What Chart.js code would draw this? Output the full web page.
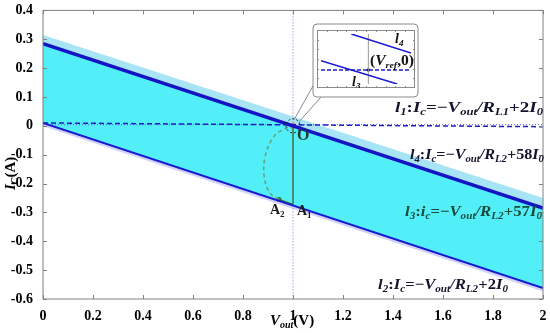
<!DOCTYPE html>
<html>
<head>
<meta charset="utf-8">
<script src="https://cdn.jsdelivr.net/npm/chart.js@4.4.0/dist/chart.umd.min.js"></script>
<style>
  body { margin: 0; background: #fff; }
  #wrap { position: relative; width: 550px; height: 333px; }
  #inset { position: absolute; left: 317px; top: 30px; }
</style>
</head>
<body>
<div id="wrap">
  <canvas id="chart-0" width="550" height="333"></canvas>
  <canvas id="inset" width="98" height="58"></canvas>
</div>
<script>
// main chart values (Vout in V, Ic in A)
const vEnds = [0, 2];
const l1Vals = [0.01, -0.003];
const l2Vals = [0.01, -0.562];
const l4Vals = [0.285, -0.285];
const glowVals = [0.315, -0.25];
const lowGlowVals = [-0.001, -0.574];
const zeroVals = [0.004, 0.004];
const refX = [1, 1];
const refY = [0.4, -0.6];
const greenX = [1, 1, 0.944];
const greenY = [0, -0.272, -0.255];
const arcX = [0.98, 0.93, 0.897, 0.883, 0.89, 0.913, 0.944];
const arcY = [-0.005, -0.03, -0.08, -0.14, -0.2, -0.238, -0.255];
const xTicks = [0, 0.2, 0.4, 0.6, 0.8, 1, 1.2, 1.4, 1.6, 1.8, 2];
const yTicks = [0.4, 0.3, 0.2, 0.1, 0, -0.1, -0.2, -0.3, -0.4, -0.5, -0.6];

// inset (zoom around the O point)
const insetL4X = [0.964, 1.09];
const insetL4Y = [0.0288, 0.0136];
const insetL3X = [0.9, 1.061];
const insetL3Y = [0.0074, -0.0112];
const insetL1X = [0.9, 1.09];
const insetL1Y = [0, 0];

const pts = (xs, ys) => xs.map((x, i) => ({ x: x, y: ys[i] }));
const SERIF = '"Liberation Serif", "Times New Roman", serif';

// draw text made of runs: i = italic, n = upright, si/sn = subscript
function rich(ctx, x, y, runs, size, color, targetW) {
  const fontOf = m => {
    const sub = m[0] === 's';
    const it = m.indexOf('i') >= 0;
    return (it ? 'italic ' : '') + 'bold ' + (sub ? Math.round(size * 0.65) : size) + 'px ' + SERIF;
  };
  let total = 0;
  runs.forEach(r => { ctx.font = fontOf(r[1]); total += ctx.measureText(r[0]).width; });
  const sc = targetW ? targetW / total : 1;
  ctx.save();
  ctx.translate(x, y);
  ctx.scale(sc, 1);
  ctx.fillStyle = color;
  ctx.textBaseline = 'middle';
  ctx.textAlign = 'left';
  let cx = 0;
  runs.forEach(r => {
    ctx.font = fontOf(r[1]);
    const dy = r[1][0] === 's' ? size * 0.32 : 0;
    ctx.fillText(r[0], cx, dy);
    cx += ctx.measureText(r[0]).width;
  });
  ctx.restore();
}

const frame = {
  id: 'frame',
  afterDraw(chart) {
    const ctx = chart.ctx;
    const a = chart.chartArea;
    const xs = chart.scales.x, ys = chart.scales.y;
    ctx.save();
    ctx.strokeStyle = '#808080';
    ctx.lineWidth = 1;
    ctx.strokeRect(a.left, a.top, a.right - a.left, a.bottom - a.top);
    ctx.beginPath();
    xTicks.forEach(v => {
      const px = Math.round(xs.getPixelForValue(v)) + 0.5;
      ctx.moveTo(px, a.bottom); ctx.lineTo(px, a.bottom - 4);
      ctx.moveTo(px, a.top); ctx.lineTo(px, a.top + 4);
    });
    yTicks.forEach(v => {
      const py = Math.round(ys.getPixelForValue(v)) + 0.5;
      ctx.moveTo(a.left, py); ctx.lineTo(a.left + 4, py);
      ctx.moveTo(a.right, py); ctx.lineTo(a.right - 4, py);
    });
    ctx.stroke();

    // dashed ring around O
    const ox = xs.getPixelForValue(1), oy = ys.getPixelForValue(0);
    ctx.setLineDash([2, 2]);
    ctx.strokeStyle = '#222';
    ctx.beginPath();
    ctx.arc(ox, oy, 7, 0, Math.PI * 2);
    ctx.stroke();
    ctx.setLineDash([]);

    // callout box of the inset
    ctx.strokeStyle = '#8a8a8a';
    ctx.beginPath();
    ctx.roundRect(313, 24, 105, 73, 4);
    ctx.stroke();
    ctx.beginPath();
    ctx.moveTo(313, 86); ctx.lineTo(ox + 1, oy - 6);
    ctx.moveTo(321, 97); ctx.lineTo(ox + 6, oy - 4);
    ctx.stroke();

    // curve labels
    rich(ctx, 395, 108, [['l', 'i'], ['1', 'si'], [':', 'n'], ['I', 'i'], ['c', 'si'], ['=\u2212', 'n'], ['V', 'i'], ['out', 'si'], ['/', 'i'], ['R', 'i'], ['L1', 'si'], ['+2', 'n'], ['I', 'i'], ['0', 'si']], 15, '#14142e', 148);
    rich(ctx, 410, 155, [['l', 'i'], ['4', 'si'], [':', 'n'], ['I', 'i'], ['c', 'si'], ['=\u2212', 'n'], ['V', 'i'], ['out', 'si'], ['/', 'i'], ['R', 'i'], ['L2', 'si'], ['+58', 'n'], ['I', 'i'], ['0', 'si']], 15, '#14142e', 134);
    rich(ctx, 405, 212, [['l', 'i'], ['3', 'si'], [':', 'n'], ['i', 'i'], ['c', 'si'], ['=\u2212', 'n'], ['V', 'i'], ['out', 'si'], ['/', 'i'], ['R', 'i'], ['L2', 'si'], ['+57', 'n'], ['I', 'i'], ['0', 'si']], 15, '#1c4a3a', 137);
    rich(ctx, 378, 285, [['l', 'i'], ['2', 'si'], [':', 'n'], ['I', 'i'], ['c', 'si'], ['=\u2212', 'n'], ['V', 'i'], ['out', 'si'], ['/', 'i'], ['R', 'i'], ['L2', 'si'], ['+2', 'n'], ['I', 'i'], ['0', 'si']], 15, '#14142e', 130);

    rich(ctx, ox + 4, oy + 10, [['O', 'n']], 16, '#1d3a2c');
    rich(ctx, 270, 210, [['A', 'n'], ['2', 'sn']], 14, '#1a1a1a');
    rich(ctx, 297, 211, [['A', 'n'], ['1', 'sn']], 14, '#1a1a1a');

    // axis titles
    rich(ctx, 270, 321, [['V', 'i'], ['out', 'si'], ['(V)', 'n']], 15, '#000');
    ctx.translate(11, 190);
    ctx.rotate(-Math.PI / 2);
    rich(ctx, 0, 0, [['I', 'i'], ['C', 'si'], ['(A)', 'n']], 15, '#000');
    ctx.restore();
  }
};

const tickFont = { family: SERIF, weight: 'bold', size: 14 };

new Chart(document.getElementById('chart-0'), {
  type: 'scatter',
  data: {
    datasets: [
      { data: pts(vEnds, glowVals), showLine: true, borderWidth: 0, pointRadius: 0,
        fill: { target: 1 }, backgroundColor: '#a6e4f6' },
      { data: pts(vEnds, l4Vals), showLine: true, borderColor: '#1414c4', borderWidth: 3.5, pointRadius: 0,
        fill: { target: 2 }, backgroundColor: '#52eff8' },
      { data: pts(vEnds, l2Vals), showLine: true, borderColor: '#1818d0', borderWidth: 2, pointRadius: 0,
        fill: { target: 3 }, backgroundColor: '#cfd2f6' },
      { data: pts(vEnds, lowGlowVals), showLine: true, borderWidth: 0, pointRadius: 0 },
      { data: pts(vEnds, l1Vals), showLine: true, borderColor: '#2020c0', borderWidth: 1.5, borderDash: [5, 3], pointRadius: 0 },
      { data: pts(vEnds, zeroVals), showLine: true, borderColor: '#5a5ad8', borderWidth: 1, borderDash: [1, 2], pointRadius: 0 },
      { data: pts(refX, refY), showLine: true, borderColor: '#8a6ac8', borderWidth: 1, borderDash: [1, 2], pointRadius: 0 },
      { data: pts(greenX, greenY), showLine: true, borderColor: '#2f7a32', borderWidth: 1.5, pointRadius: 0 },
      { data: pts(arcX, arcY), showLine: true, borderColor: '#6aa07a', borderWidth: 1.5, borderDash: [4, 3], pointRadius: 0, tension: 0.3 },
      { data: pts([0.944], [-0.255]), pointRadius: 2.5, pointBackgroundColor: '#2f7a32', pointBorderWidth: 0 },
      { data: pts([1], [0]), pointRadius: 3, pointBackgroundColor: '#e0708a', pointBorderWidth: 0 }
    ]
  },
  plugins: [frame],
  options: {
    responsive: false,
    animation: false,
    devicePixelRatio: 1,
    layout: { padding: { top: 9, right: 7, left: 0, bottom: 0 } },
    plugins: {
      legend: { display: false },
      tooltip: { enabled: false },
      filler: { drawTime: 'beforeDatasetsDraw' }
    },
    scales: {
      x: {
        type: 'linear', min: 0, max: 2,
        afterFit: s => { s.height = 34; },
        afterBuildTicks: s => { s.ticks = xTicks.map(v => ({ value: v })); },
        grid: { display: false },
        border: { display: false },
        ticks: { color: '#000', font: tickFont, padding: 1, maxRotation: 0,
          callback: v => String(Number(v.toFixed(1))) }
      },
      y: {
        type: 'linear', min: -0.6, max: 0.4,
        afterFit: s => { s.width = 43; },
        afterBuildTicks: s => { s.ticks = yTicks.map(v => ({ value: v })); },
        grid: { display: false },
        border: { display: false },
        ticks: { color: '#000', font: tickFont, padding: 2,
          callback: v => String(Number(v.toFixed(1))) }
      }
    }
  }
});

// inset chart
const insetFrame = {
  id: 'insetFrame',
  afterDraw(chart) {
    const ctx = chart.ctx;
    const w = chart.width, h = chart.height;
    ctx.save();
    ctx.strokeStyle = '#8a8a8a';
    ctx.lineWidth = 1;
    ctx.strokeRect(0.5, 0.5, w - 1, h - 1);
    ctx.beginPath();
    for (let i = 1; i < 10; i++) {
      const px = Math.round(i * w / 10) + 0.5;
      ctx.moveTo(px, h); ctx.lineTo(px, h - 2);
      ctx.moveTo(px, 0); ctx.lineTo(px, 2);
    }
    for (let i = 1; i < 6; i++) {
      const py = Math.round(i * h / 6) + 0.5;
      ctx.moveTo(0, py); ctx.lineTo(2, py);
      ctx.moveTo(w, py); ctx.lineTo(w - 2, py);
    }
    ctx.stroke();
    rich(ctx, 78, 9, [['l', 'i'], ['4', 'si']], 14, '#111');
    rich(ctx, 53, 31, [['(', 'n'], ['V', 'i'], ['ref', 'si'], [',0)', 'n']], 14, '#111', 44);
    rich(ctx, 35, 52, [['l', 'i'], ['3', 'si']], 14, '#111');
    ctx.restore();
  }
};

new Chart(document.getElementById('inset'), {
  type: 'scatter',
  data: {
    datasets: [
      { data: pts(insetL4X, insetL4Y), showLine: true, borderColor: '#1818d0', borderWidth: 1.5, pointRadius: 0 },
      { data: pts(insetL3X, insetL3Y), showLine: true, borderColor: '#1818d0', borderWidth: 1.5, pointRadius: 0 },
      { data: pts(insetL1X, insetL1Y), showLine: true, borderColor: '#2020c0', borderWidth: 1.3, borderDash: [4, 2], pointRadius: 0 },
      { data: pts([1, 1], [-0.0112, 0.0288]), showLine: true, borderColor: '#9a9a9a', borderWidth: 1, pointRadius: 0 },
      { data: pts([1], [0]), pointRadius: 1.8, pointBackgroundColor: '#111', pointBorderWidth: 0 }
    ]
  },
  plugins: [insetFrame],
  options: {
    responsive: false,
    animation: false,
    devicePixelRatio: 1,
    layout: { padding: 0 },
    plugins: { legend: { display: false }, tooltip: { enabled: false } },
    scales: {
      x: { type: 'linear', display: false, min: 0.9, max: 1.09 },
      y: { type: 'linear', display: false, min: -0.0112, max: 0.0288 }
    }
  }
});
</script>
</body>
</html>
